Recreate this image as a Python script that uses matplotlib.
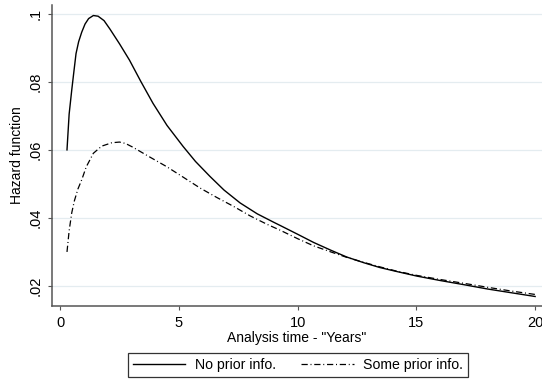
import matplotlib
matplotlib.use("Agg")
from matplotlib import pyplot as plt

# values
t_no = [0.29, 0.38, 0.49, 0.58, 0.67, 0.78, 0.91, 1.05, 1.2, 1.4, 1.6, 1.85, 2.1, 2.5, 2.92, 3.4, 3.91, 4.5, 5.18, 5.7, 6.31, 6.9, 7.58, 8.3, 9.0, 9.26, 10.0, 10.67, 11.4, 12.07, 12.8, 13.47, 14.2, 15.02, 16.0, 16.98, 18.0, 19.0, 20.0]
h_no = [0.060, 0.0705, 0.0776, 0.0830, 0.0883, 0.0918, 0.0946, 0.0970, 0.0986, 0.0995, 0.0993, 0.0980, 0.0955, 0.0912, 0.0864, 0.0801, 0.0737, 0.0672, 0.0610, 0.0566, 0.0522, 0.0482, 0.0444, 0.0412, 0.0387, 0.0378, 0.0352, 0.0328, 0.0305, 0.0285, 0.0268, 0.0254, 0.0242, 0.0229, 0.0216, 0.0204, 0.0191, 0.0180, 0.0169]

t_some = [0.29, 0.38, 0.49, 0.6, 0.75, 0.91, 1.1, 1.4, 1.75, 2.18, 2.5, 2.75, 3.06, 3.7, 4.48, 5.2, 5.89, 6.6, 7.3, 8.0, 8.72, 9.26, 10.0, 10.67, 11.4, 12.07, 12.8, 13.47, 14.2, 15.02, 16.0, 16.98, 18.0, 19.0, 20.0]
h_some = [0.030, 0.0362, 0.0415, 0.0450, 0.0485, 0.0512, 0.0550, 0.0590, 0.0611, 0.0621, 0.0623, 0.0619, 0.0608, 0.0582, 0.0551, 0.0519, 0.0488, 0.0460, 0.0434, 0.0406, 0.0381, 0.0364, 0.0339, 0.0318, 0.0300, 0.0284, 0.0269, 0.0256, 0.0243, 0.0231, 0.0219, 0.0208, 0.0196, 0.0185, 0.0175]

xticks = [0, 5, 10, 15, 20]
yticks = [0.02, 0.04, 0.06, 0.08, 0.1]
ylabels = [".02", ".04", ".06", ".08", ".1"]

plt.rcParams['font.family'] = ['Liberation Sans', 'DejaVu Sans']
plt.rcParams['font.size'] = 10

fig = plt.figure(figsize=(5.42, 3.83), dpi=100)
ax = fig.add_axes([0.096, 0.201, 0.904, 0.786])

for y in yticks:
    ax.axhline(y, color='#e4ecf0', lw=0.9, zorder=0)

ax.plot(t_no, h_no, color='black', lw=1.0, label='No prior info.')
ax.plot(t_some, h_some, color='black', lw=0.9, dashes=(5, 2.2, 0.8, 2.2), label='Some prior info.')

ax.set_xlim(-0.34, 20.29)
ax.set_ylim(0.0141, 0.1026)
ax.set_xticks(xticks)
ax.set_yticks(yticks)
ax.set_yticklabels(ylabels, rotation=90, va='center')
ax.spines['top'].set_visible(False)
ax.spines['right'].set_visible(False)
for s in ['left', 'bottom']:
    ax.spines[s].set_color('#555555')
    ax.spines[s].set_linewidth(1.1)
ax.tick_params(direction='out', length=3, width=0.8, color='#555555', labelsize=10.5, pad=4)
ax.set_xlabel('Analysis time - "Years"', fontsize=10, labelpad=1)
ax.set_ylabel('Hazard function', fontsize=10, labelpad=3)

leg = ax.legend(loc='upper center', bbox_to_anchor=(0.502, -0.156), ncol=2, frameon=True,
                fancybox=False, edgecolor='black', handlelength=3.7, columnspacing=1.8,
                handletextpad=0.65, borderpad=0.35, borderaxespad=0, fontsize=10.2)
leg.get_frame().set_linewidth(0.9)

plt.savefig('out.png', dpi=100)
